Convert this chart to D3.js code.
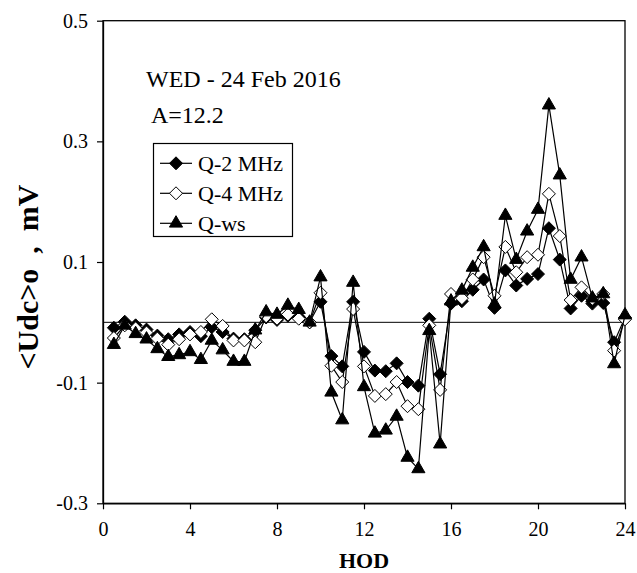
<!DOCTYPE html>
<html>
<head>
<meta charset="utf-8">
<script src="https://cdn.jsdelivr.net/npm/d3@7"></script>
<style>
  body { margin: 0; background: #fff; }
  text { font-family: "Liberation Serif", "Times New Roman", serif; fill: #000; }
</style>
</head>
<body>
<svg id="chart"></svg>
<script>
// Hour of day (half-hour steps)
const hours = [0.5, 1, 1.5, 2, 2.5, 3, 3.5, 4, 4.5, 5, 5.5, 6, 6.5, 7, 7.5, 8,
               8.5, 9, 9.5, 10, 10.5, 11, 11.5, 12, 12.5, 13, 13.5, 14, 14.5, 15, 15.5, 16,
               16.5, 17, 17.5, 18, 18.5, 19, 19.5, 20, 20.5, 21, 21.5, 22, 22.5, 23, 23.5, 24];

// Q-2 MHz
const q2 = [-0.009, 0.001, -0.005, -0.012, -0.022, -0.028, -0.020, -0.016, -0.023, -0.008, -0.016, -0.027, -0.028, -0.013, 0.008, 0.004,
            0.011, 0.008, 0.000, 0.034, -0.056, -0.073, 0.034, -0.049, -0.080, -0.081, -0.068, -0.099, -0.105, 0.006, -0.086, 0.031,
            0.035, 0.054, 0.071, 0.024, 0.086, 0.061, 0.072, 0.080, 0.156, 0.104, 0.023, 0.044, 0.031, 0.032, -0.033, 0.008];

// Q-4 MHz
const q4 = [-0.026, -0.005, -0.010, -0.017, -0.027, -0.037, -0.028, -0.020, -0.016, 0.005, -0.006, -0.030, -0.030, -0.033, 0.010, 0.006,
            0.013, 0.006, 0.000, 0.049, -0.072, -0.099, 0.022, -0.073, -0.122, -0.119, -0.099, -0.139, -0.144, -0.005, -0.112, 0.047,
            0.040, 0.071, 0.108, 0.044, 0.125, 0.083, 0.108, 0.112, 0.213, 0.143, 0.037, 0.058, 0.039, 0.047, -0.047, 0.005];

// Q-ws
const qws = [-0.037, -0.005, -0.019, -0.028, -0.044, -0.057, -0.054, -0.049, -0.062, -0.030, -0.046, -0.065, -0.065, -0.013, 0.017, 0.013,
             0.028, 0.021, 0.000, 0.075, -0.116, -0.162, 0.066, -0.107, -0.184, -0.179, -0.156, -0.224, -0.243, -0.014, -0.202, 0.035,
             0.053, 0.091, 0.125, 0.030, 0.177, 0.104, 0.151, 0.187, 0.360, 0.244, 0.071, 0.108, 0.040, 0.047, -0.069, 0.012];

const seriesNames = ["Q-2 MHz", "Q-4 MHz", "Q-ws"];
const xTicks = [0, 4, 8, 12, 16, 20, 24];
const yTicks = [-0.3, -0.1, 0.1, 0.3, 0.5];
const yTickLabels = ["-0.3", "-0.1", "0.1", "0.3", "0.5"];

const W = 637, H = 573;
const plot = { left: 103, right: 625, top: 20.7, bottom: 503.3 };

const svg = d3.select("#chart").attr("width", W).attr("height", H);

const x = d3.scaleLinear().domain([0, 24]).range([plot.left, plot.right]);
const y = d3.scaleLinear().domain([-0.3, 0.5]).range([plot.bottom, plot.top]);

// frame
svg.append("rect")
  .attr("x", plot.left).attr("y", plot.top)
  .attr("width", plot.right - plot.left).attr("height", plot.bottom - plot.top)
  .attr("fill", "none").attr("stroke", "#000").attr("stroke-width", 1.3);

// zero line
svg.append("line")
  .attr("x1", plot.left).attr("x2", plot.right)
  .attr("y1", y(0)).attr("y2", y(0))
  .attr("stroke", "#000").attr("stroke-width", 1);

// axes
const xAxis = svg.append("g")
  .attr("transform", `translate(0,${plot.bottom})`)
  .call(d3.axisBottom(x).tickValues(xTicks).tickFormat(d3.format("d"))
        .tickSize(6).tickSizeOuter(0).tickPadding(13));
const yAxis = svg.append("g")
  .attr("transform", `translate(${plot.left},0)`)
  .call(d3.axisLeft(y).tickValues(yTicks).tickFormat((d, i) => yTickLabels[i])
        .tickSize(6).tickSizeOuter(0).tickPadding(9));

[xAxis, yAxis].forEach(g => {
  g.select(".domain").attr("stroke", "#000").attr("stroke-width", 1.3);
  g.selectAll(".tick line").attr("stroke", "#000").attr("stroke-width", 1.2);
  g.selectAll(".tick text")
    .attr("font-family", "Liberation Serif").attr("font-size", 20).attr("fill", "#000");
});

// axis titles
svg.append("text")
  .attr("x", x(12)).attr("y", 568)
  .attr("text-anchor", "middle")
  .attr("font-size", 22).attr("font-weight", "bold")
  .text("HOD");

svg.append("text")
  .attr("transform", `translate(38,277) rotate(-90)`)
  .attr("text-anchor", "middle")
  .attr("font-size", 30).attr("font-weight", "bold")
  .style("white-space", "pre")
  .text("<Udc>o  ,  mV");

// annotations
svg.append("text").attr("x", 146).attr("y", 87).attr("font-size", 24).text("WED - 24 Feb 2016");
svg.append("text").attr("x", 151).attr("y", 123).attr("font-size", 24).text("A=12.2");

// markers
const triangle = d3.symbol().type(d3.symbolTriangle).size(75);

const series = [
  { name: seriesNames[0], values: q2, shape: "diamond", fill: "#000" },
  { name: seriesNames[1], values: q4, shape: "diamond", fill: "#fff" },
  { name: seriesNames[2], values: qws, shape: "triangle", fill: "#000" }
];

function markerPath(s) {
  if (s.shape === "triangle") return triangle();
  // square rotated 45 degrees
  return "M0,-6.5L6.5,0L0,6.5L-6.5,0Z";
}

const line = d3.line().x(d => x(d[0])).y(d => y(d[1]));

series.forEach(s => {
  const pts = hours.map((h, i) => [h, s.values[i]]);
  const g = svg.append("g");
  g.append("path")
    .attr("d", line(pts))
    .attr("fill", "none").attr("stroke", "#000").attr("stroke-width", 1.2);
  g.selectAll("path.mk").data(pts).enter().append("path")
    .attr("class", "mk")
    .attr("transform", d => `translate(${x(d[0])},${y(d[1])})`)
    .attr("d", markerPath(s))
    .attr("fill", s.fill).attr("stroke", "#000").attr("stroke-width", 1);
});

// legend
const legend = svg.append("g");
legend.append("rect")
  .attr("x", 153.5).attr("y", 143.5).attr("width", 139).attr("height", 93)
  .attr("fill", "#fff").attr("stroke", "#000").attr("stroke-width", 1.2);
series.forEach((s, i) => {
  const cy = 163.3 + i * 30;
  legend.append("line")
    .attr("x1", 160).attr("x2", 192).attr("y1", cy).attr("y2", cy)
    .attr("stroke", "#000").attr("stroke-width", 1.2);
  legend.append("path")
    .attr("transform", `translate(176,${cy})`)
    .attr("d", markerPath(s))
    .attr("fill", s.fill).attr("stroke", "#000").attr("stroke-width", 1);
  legend.append("text")
    .attr("x", 198).attr("y", cy + 7.5)
    .attr("font-size", 22)
    .text(s.name);
});
</script>
</body>
</html>
